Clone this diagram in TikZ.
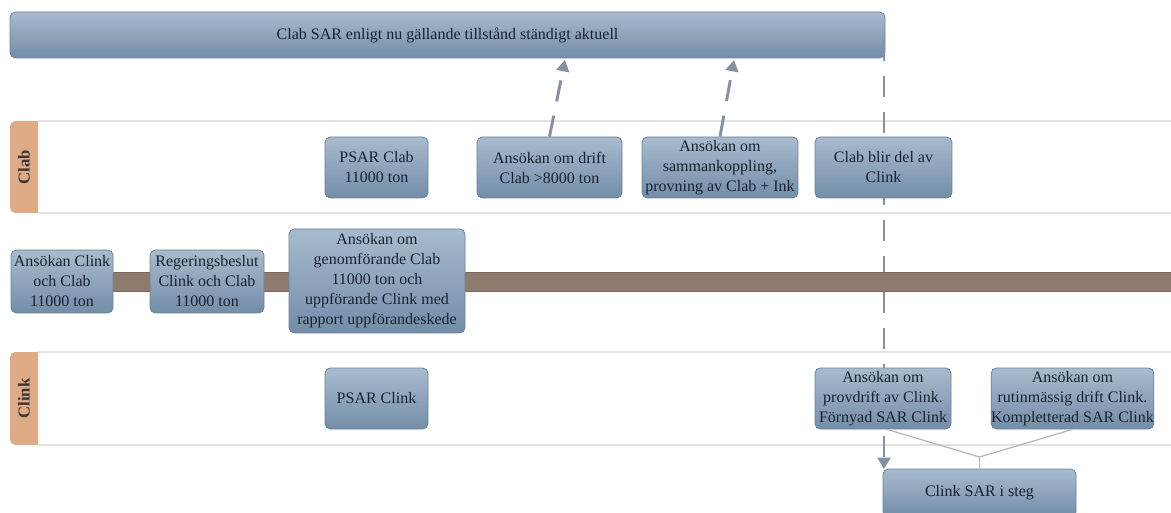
\documentclass[tikz,border=0pt]{standalone}
\usepackage{fontspec}
\setmainfont{Liberation Serif}
\usetikzlibrary{arrows.meta}
\definecolor{boxtop}{HTML}{A8BBCE}
\definecolor{boxbot}{HTML}{738DA8}
\definecolor{boxedge}{HTML}{6C8198}
\definecolor{boxtext}{HTML}{18222F}
\definecolor{lanehead}{HTML}{DFAA86}
\definecolor{laneline}{HTML}{E2E2DE}
\definecolor{bandcol}{HTML}{8F7B6E}
\definecolor{bandedge}{HTML}{7A685C}
\definecolor{dashcol}{HTML}{8391A1}
\definecolor{thincol}{HTML}{AEB7C0}
\definecolor{headtext}{HTML}{3A3634}
\begin{document}
\begin{tikzpicture}[x=0.75pt,y=-0.75pt,
  box/.style={rounded corners=4pt, draw=boxedge, line width=0.6pt,
    top color=boxtop, bottom color=boxbot, text=boxtext, align=center,
    inner sep=0pt, font=\fontsize{12}{15}\selectfont},
  wh/.style 2 args={minimum width={#1*0.75pt}, minimum height={#2*0.75pt}},
  lanehd/.style={fill=lanehead, rounded corners=4pt, inner sep=0pt,
    minimum width={28*0.75pt}, minimum height={92*0.75pt}},
  lanelbl/.style={rotate=90, text=headtext, font=\fontsize{12.5}{14}\selectfont\bfseries},
  laneln/.style={draw=laneline, line width=1.4pt},
  dashcon/.style={draw=dashcol, line width=2.2pt, dash pattern=on 16pt off 11pt,
    -{Triangle[width=9.5pt,length=8.5pt]}},
  thincon/.style={draw=thincol, line width=0.9pt}
]
\useasboundingbox (0,0) rectangle (1171,513);
\fill[white] (0,0) rectangle (1171,513);

% banner
\node[box, wh={875}{46}] (banner) at (447.5,35) {Clab SAR enligt nu gällande tillstånd ständigt aktuell};

% lanes
\node[lanehd] (clabhd) at (24,167) {};
\fill[lanehead] (28,121) rectangle (38,213);
\node[lanelbl] (clablbl) at (clabhd) {Clab};
\coordinate (l1a) at (38,121); \coordinate (l1b) at (1171,121);
\coordinate (l2a) at (38,213); \coordinate (l2b) at (1171,213);
\draw[laneln] (l1a) -- (l1b);
\draw[laneln] (l2a) -- (l2b);

\node[lanehd, minimum height={93*0.75pt}] (clinkhd) at (24,398.5) {};
\fill[lanehead] (28,352) rectangle (38,445);
\node[lanelbl] (clinklbl) at (clinkhd) {Clink};
\coordinate (l3a) at (38,352); \coordinate (l3b) at (1171,352);
\coordinate (l4a) at (38,445); \coordinate (l4b) at (1171,445);
\draw[laneln] (l3a) -- (l3b);
\draw[laneln] (l4a) -- (l4b);

% bottom box
\node[box, wh={193}{48}] (steg) at (979.5,493) {Clink SAR i steg};

% vertical dashed line
\coordinate (vtop) at (884,40);
\coordinate (vbot) at (884,469);
\draw[dashcon] (vtop) -- (vbot);

% band
\fill[bandcol, draw=bandedge, line width=0.5pt] (11,272) rectangle (1171,291);

% Clab lane boxes
\node[box, wh={103}{61}] (psarclab) at (376.5,167.5) {PSAR Clab\\11000 ton};
\node[box, wh={145}{61}] (drift) at (549.5,167.5) {Ansökan om drift\\Clab >8000 ton};
\node[box, wh={156}{61}] (samman) at (720,167.5) {Ansökan om\\sammankoppling,\\provning av Clab + Ink};
\node[box, wh={137}{61}] (blir) at (883.5,167.5) {Clab blir del av\\Clink};

% band boxes
\node[box, wh={102}{63}] (ans1) at (62,281.5) {Ansökan Clink\\och Clab\\11000 ton};
\node[box, wh={114}{63}] (reg) at (207,281.5) {Regeringsbeslut\\Clink och Clab\\11000 ton};
\node[box, wh={176}{104}] (genom) at (377,281) {Ansökan om\\genomförande Clab\\11000 ton och\\uppförande Clink med\\rapport uppförandeskede};

% Clink lane boxes
\node[box, wh={103}{61}] (psarclink) at (376.5,398.5) {PSAR Clink};
\node[box, wh={136}{61}] (prov) at (883,398.5) {Ansökan om\\provdrift av Clink.\\Förnyad SAR Clink};
\node[box, wh={161}{61}] (rutin) at (1072.5,398.5) {Ansökan om\\rutinmässig drift Clink.\\Kompletterad SAR Clink};

% dashed arrows to banner
\coordinate (t1) at (565,60);
\coordinate (t2) at (734,60);
\draw[dashcon] (drift.north) -- (t1);
\draw[dashcon] (samman.north) -- (t2);

% thin connectors
\coordinate (jn) at (979.5,457);
\draw[thincon] ([xshift=3pt]prov.south) -- (jn) -- (rutin.south);
\draw[thincon] (jn) -- (steg.north);
\end{tikzpicture}
\end{document}
